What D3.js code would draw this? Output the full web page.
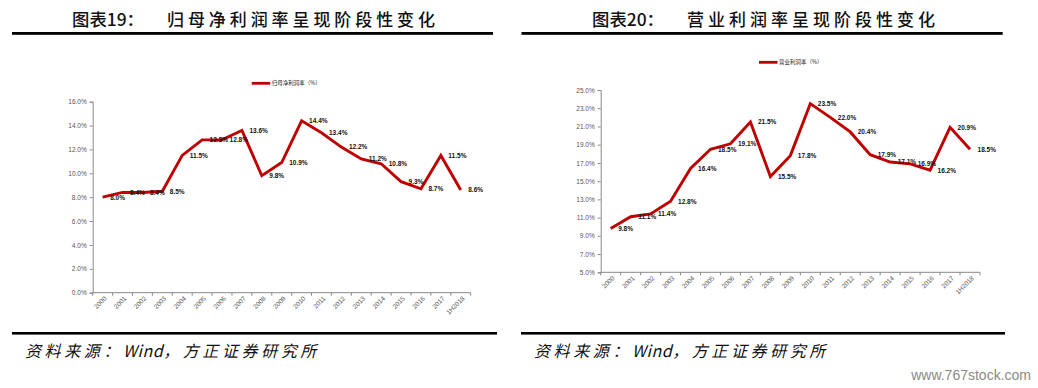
<!DOCTYPE html>
<html lang="zh">
<head>
<meta charset="utf-8">
<script src="https://d3js.org/d3.v7.min.js"></script>
<style type="text/css">
body {
	margin: 0;
	background-color: white;
}
.tick-label {
	font: 6.5px "Liberation Sans", Arial, sans-serif;
	fill: #555;
}
.data-label {
	font: bold 6.5px "Liberation Sans", Arial, sans-serif;
	fill: #111;
}
.legend-text {
	font: 5.5px "Noto Sans CJK SC", sans-serif;
	fill: #222;
}
.title {
	font: 500 17px "Noto Sans CJK SC", serif;
	fill: #111;
}
.source {
	font: italic 16px "Noto Sans CJK SC", sans-serif;
	letter-spacing: 3.6px;
	fill: #111;
}
</style>
</head>
<body>
<svg id="chart"></svg>
<script type="text/javascript">

// categories
var years = ["2000","2001","2002","2003","2004","2005","2006","2007","2008","2009",
	"2010","2011","2012","2013","2014","2015","2016","2017","1H2018"];

// 归母净利润率 (%)
var netMargin = [8.0, 8.4, 8.4, 8.5, 11.5, 12.8, 12.8, 13.6, 9.8, 10.9,
	14.4, 13.4, 12.2, 11.2, 10.8, 9.3, 8.7, 11.5, 8.6];

// 营业利润率 (%)
var opMargin = [9.8, 11.1, 11.4, 12.8, 16.4, 18.5, 19.1, 21.5, 15.5, 17.8,
	23.5, 22.0, 20.4, 17.9, 17.1, 16.9, 16.2, 20.9, 18.5];

// y tick values
var netTicks = [0, 2, 4, 6, 8, 10, 12, 14, 16];
var opTicks = [5, 7, 9, 11, 13, 15, 17, 19, 21, 23, 25];

var width = 1038, height = 388;
var red = "#c00000";

var svg = d3.select("#chart")
	.attr("width", width)
	.attr("height", height);

function drawPanel(cfg) {
	var g = svg.append("g");

	// title + thick rule underneath
	g.append("text").attr("class", "title")
		.attr("x", cfg.titleX).attr("y", 26)
		.attr("textLength", 72).attr("lengthAdjust", "spacingAndGlyphs")
		.text(cfg.titleNo);
	g.append("text").attr("class", "title")
		.attr("x", cfg.titleX + 95).attr("y", 26)
		.attr("textLength", cfg.titleLen).attr("lengthAdjust", "spacing")
		.text(cfg.titleText);
	g.append("rect")
		.attr("x", cfg.ruleX[0]).attr("y", 32)
		.attr("width", cfg.ruleX[1] - cfg.ruleX[0]).attr("height", 2.8)
		.attr("fill", "#000");

	// scales
	var x = d3.scaleBand()
		.domain(years)
		.range(cfg.xRange)
		.padding(0);
	var y = d3.scaleLinear()
		.domain(d3.extent(cfg.ticks))
		.range(cfg.yRange);

	// y axis
	var yAxis = d3.axisLeft(y)
		.tickValues(cfg.ticks)
		.tickSize(3)
		.tickPadding(3)
		.tickFormat(function(d) { return d.toFixed(1) + "%"; });
	var ya = g.append("g")
		.attr("transform", "translate(" + cfg.xRange[0] + ",0)")
		.call(yAxis);
	ya.select(".domain").attr("stroke", "#888").attr("stroke-width", 1);
	ya.selectAll(".tick line").attr("stroke", "#888");
	ya.selectAll(".tick text").attr("class", "tick-label").attr("font-size", null).attr("font-family", null);

	// x axis: line + ticks at band edges
	var y0 = cfg.yRange[0];
	g.append("line")
		.attr("x1", cfg.xRange[0]).attr("x2", cfg.xRange[1])
		.attr("y1", y0).attr("y2", y0)
		.attr("stroke", "#888");
	var edges = years.map(function(d) { return x(d); }).concat([cfg.xRange[1]]);
	g.selectAll(".xtick")
		.data(edges)
		.join("line")
		.attr("x1", function(d) { return d; })
		.attr("x2", function(d) { return d; })
		.attr("y1", y0).attr("y2", y0 + 3)
		.attr("stroke", "#888");
	g.selectAll(".xlabel")
		.data(years)
		.join("text")
		.attr("class", "tick-label")
		.attr("text-anchor", "end")
		.attr("transform", function(d) {
			return "translate(" + (x(d) + x.bandwidth() / 2 + 2) + "," + (y0 + 4) + ") rotate(-45)";
		})
		.attr("dy", "0.5em")
		.text(function(d) { return d; });

	// the line
	var line = d3.line()
		.x(function(d, i) { return x(years[i]) + x.bandwidth() / 2; })
		.y(function(d) { return y(d); });
	g.append("path")
		.datum(cfg.values)
		.attr("d", line)
		.attr("fill", "none")
		.attr("stroke", red)
		.attr("stroke-width", 2.9)
		.attr("stroke-linejoin", "miter");

	// data labels, to the right of each point
	g.selectAll(".dlabel")
		.data(cfg.values)
		.join("text")
		.attr("class", "data-label")
		.attr("x", function(d, i) { return x(years[i]) + x.bandwidth() / 2 + 7.5; })
		.attr("y", function(d) { return y(d) + 2.4; })
		.text(function(d) { return d.toFixed(1) + "%"; });

	// legend
	g.append("line")
		.attr("x1", cfg.legend[0]).attr("x2", cfg.legend[0] + 18.5)
		.attr("y1", cfg.legend[1]).attr("y2", cfg.legend[1])
		.attr("stroke", red).attr("stroke-width", 2.8);
	g.append("text").attr("class", "legend-text")
		.attr("x", cfg.legend[0] + 20).attr("y", cfg.legend[1] + 2)
		.text(cfg.legendText);

	// source line
	g.append("rect")
		.attr("x", cfg.srcRule[0]).attr("y", 332)
		.attr("width", cfg.srcRule[1] - cfg.srcRule[0]).attr("height", 2.6)
		.attr("fill", "#000");
	var src = g.append("text").attr("class", "source")
		.attr("x", cfg.srcX).attr("y", 357);
	src.append("tspan").text("资料来源：");
	src.append("tspan").style("letter-spacing", "0.5px").text("Wind");
	src.append("tspan").text("，方正证券研究所");
}

drawPanel({
	titleNo: "图表19：", titleText: "归母净利润率呈现阶段性变化",
	titleX: 72, titleLen: 268, ruleX: [12, 493],
	xRange: [92.7, 470.7], yRange: [292.7, 101.7],
	ticks: netTicks, values: netMargin,
	legend: [251.7, 83.3], legendText: "归母净利润率（%）",
	srcRule: [12, 497], srcX: 25
});

drawPanel({
	titleNo: "图表20：", titleText: "营业利润率呈现阶段性变化",
	titleX: 592, titleLen: 248, ruleX: [521.5, 1002.7],
	xRange: [600.7, 980], yRange: [272.3, 90],
	ticks: opTicks, values: opMargin,
	legend: [759, 62.3], legendText: "营业利润率（%）",
	srcRule: [521, 1005], srcX: 534
});

// watermark
svg.append("text")
	.attr("x", 1031).attr("y", 380)
	.attr("text-anchor", "end")
	.style("font", "14px 'Liberation Sans', Arial, sans-serif")
	.style("fill", "#8a8a8a")
	.text("www.767stock.com");

</script>
</body>
</html>
